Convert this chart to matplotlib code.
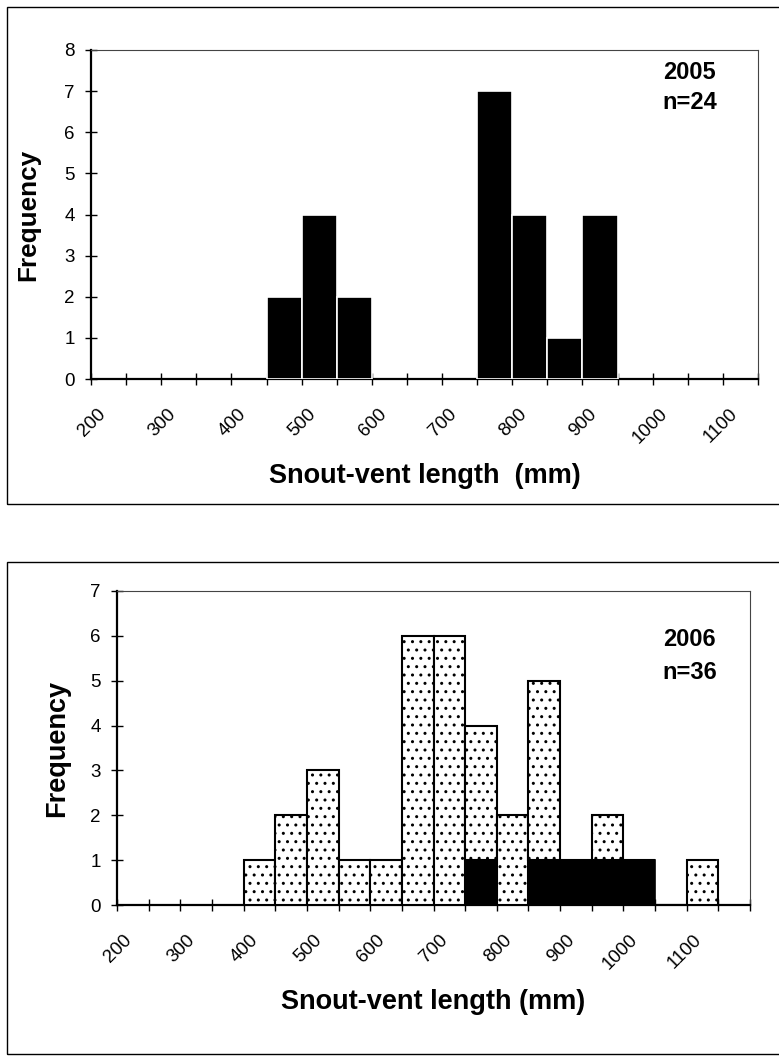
import matplotlib
matplotlib.use("Agg")
import matplotlib.pyplot as plt
import matplotlib.transforms as mtransforms
from matplotlib.patches import Rectangle
from matplotlib.ticker import FixedLocator, MultipleLocator

# 2005 survey: bins (left edge, mm) and counts
bins_2005 = [450, 500, 550, 750, 800, 850, 900]
freq_2005 = [2, 4, 2, 7, 4, 1, 4]

# 2006 survey: dotted part stacked on top of the black part
bins_2006 = [400, 450, 500, 550, 600, 650, 700, 750, 800, 850, 900, 950, 1000, 1050, 1100]
dotted_2006 = [1, 2, 3, 1, 1, 6, 6, 3, 2, 4, 0, 1, 0, 0, 1]
black_2006 = [0, 0, 0, 0, 0, 0, 0, 1, 0, 1, 1, 1, 1, 0, 0]

xtick_labels = [200, 300, 400, 500, 600, 700, 800, 900, 1000, 1100]

font = ["Liberation Sans", "DejaVu Sans"]
plt.rcParams["hatch.linewidth"] = 1.0

fig = plt.figure(figsize=(7.79, 10.57), dpi=100)

# outer frames round each chart
fig.add_artist(Rectangle((0.009, 0.523), 1.2, 0.470, transform=fig.transFigure,
                         fill=False, ec="black", lw=1.0))
fig.add_artist(Rectangle((0.009, 0.003), 1.2, 0.4655, transform=fig.transFigure,
                         fill=False, ec="black", lw=1.0))

ax1 = fig.add_axes([0.1168, 0.6414, 0.8562, 0.3113])
ax2 = fig.add_axes([0.1502, 0.1438, 0.8126, 0.2971])


def style_axes(ax, xmax, ymax, ylabel_size):
    ax.set_xlim(200, xmax)
    ax.set_ylim(0, ymax)
    ax.xaxis.set_major_locator(FixedLocator(xtick_labels))
    ax.xaxis.set_minor_locator(MultipleLocator(50))
    ax.set_xticklabels([str(v) for v in xtick_labels])
    ax.yaxis.set_major_locator(MultipleLocator(1))
    ax.tick_params(axis="both", which="both", direction="inout", length=8.5, width=1.0)
    ax.tick_params(axis="x", pad=19)
    ax.tick_params(axis="y", pad=7.5)
    for lab in ax.get_yticklabels():
        lab.set_family(font)
        lab.set_fontsize(13.5)
    offset = mtransforms.ScaledTranslation(12 / 100, 0, fig.dpi_scale_trans)
    for lab in ax.get_xticklabels():
        lab.set_family(font)
        lab.set_fontsize(13.5)
        lab.set_rotation(45)
        lab.set_ha("right")
        lab.set_va("center")
        lab.set_rotation_mode("anchor")
        lab.set_transform(lab.get_transform() + offset)
    for side in ("left", "bottom"):
        ax.spines[side].set_linewidth(1.6)
    for side in ("top", "right"):
        ax.spines[side].set_linewidth(0.8)
        ax.spines[side].set_color("#444444")
    ax.set_ylabel("Frequency", family=font, fontsize=ylabel_size, fontweight="bold")


# ---- 2005 ----
ax1.bar(bins_2005, freq_2005, width=50, align="edge", color="black",
        edgecolor="white", linewidth=1.2, zorder=3)
style_axes(ax1, 1150, 8, 18.8)
ax1.yaxis.set_label_coords(-0.0765, 0.5)
ax1.set_xlabel("Snout-vent length  (mm)", family=font, fontsize=19.5,
               fontweight="bold", va="top")
ax1.xaxis.set_label_coords(0.5, -0.255)
ax1.text(0.898, 0.933, "2005", transform=ax1.transAxes, ha="center", va="center",
         family=font, fontsize=17, fontweight="bold")
ax1.text(0.898, 0.839, "n=24", transform=ax1.transAxes, ha="center", va="center",
         family=font, fontsize=17, fontweight="bold")

# ---- 2006 ----
ax2.bar(bins_2006, black_2006, width=50, align="edge", color="black",
        edgecolor="black", linewidth=1.2, zorder=3)
ax2.bar(bins_2006, dotted_2006, bottom=black_2006, width=50, align="edge",
        color="white", edgecolor="black", hatch="..", linewidth=1.5, zorder=3)
style_axes(ax2, 1200, 7, 19.5)
ax2.yaxis.set_label_coords(-0.074, 0.5)
ax2.set_xlabel("Snout-vent length (mm)", family=font, fontsize=19.5,
               fontweight="bold", va="top")
ax2.xaxis.set_label_coords(0.5, -0.268)
ax2.text(0.905, 0.847, "2006", transform=ax2.transAxes, ha="center", va="center",
         family=font, fontsize=17, fontweight="bold")
ax2.text(0.905, 0.741, "n=36", transform=ax2.transAxes, ha="center", va="center",
         family=font, fontsize=17, fontweight="bold")

fig.savefig("out.png", dpi=100)
